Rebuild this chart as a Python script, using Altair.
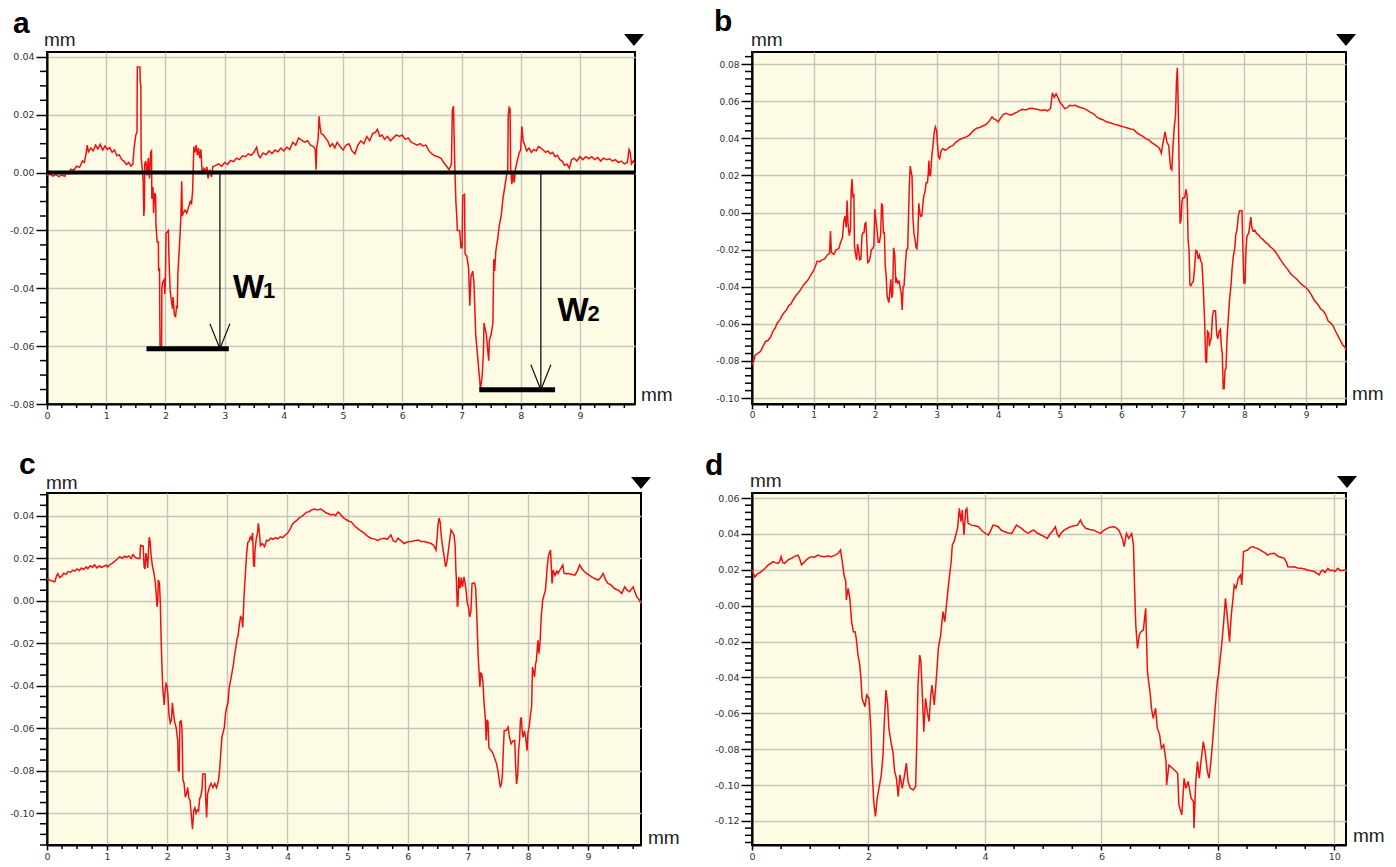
import altair as alt
import pandas as pd

# ---------------- profile data (mm, mm) ----------------
profile_a = [
    (0.00, -0.0010), (0.05, -0.0005), (0.10, -0.0012), (0.15, -0.0006), (0.20, -0.0014),
    (0.25, -0.0008), (0.30, -0.0013), (0.33, 0.0002), (0.37, -0.0004), (0.40, 0.0012),
    (0.45, 0.0008), (0.50, 0.0022), (0.55, 0.0018), (0.60, 0.0040), (0.63, 0.0035),
    (0.66, 0.0065), (0.68, 0.0095), (0.70, 0.0072), (0.74, 0.0085), (0.78, 0.0075),
    (0.82, 0.0095), (0.86, 0.0082), (0.90, 0.0098), (0.94, 0.0078), (0.98, 0.0092),
    (1.02, 0.0080), (1.06, 0.0086), (1.10, 0.0070), (1.14, 0.0078), (1.18, 0.0058),
    (1.22, 0.0062), (1.26, 0.0045), (1.30, 0.0040), (1.34, 0.0028), (1.38, 0.0035),
    (1.42, 0.0022), (1.45, 0.0030), (1.47, 0.0085), (1.50, 0.0130), (1.52, 0.0140),
    (1.525, 0.0365), (1.57, 0.0365), (1.575, 0.0310), (1.585, 0.0300), (1.59, 0.0050),
    (1.61, 0.0010), (1.625, -0.0030), (1.635, -0.0150), (1.645, -0.0120), (1.65, 0.0030),
    (1.67, 0.0040), (1.69, -0.0010), (1.71, 0.0050), (1.73, -0.0020), (1.75, 0.0070),
    (1.765, 0.0075), (1.77, -0.0090), (1.79, -0.0050), (1.80, -0.0140), (1.82, -0.0070),
    (1.835, -0.0080), (1.84, -0.0180), (1.86, -0.0240), (1.88, -0.0240), (1.885, -0.0340),
    (1.90, -0.0330), (1.905, -0.0500), (1.91, -0.0610), (1.935, -0.0610), (1.94, -0.0400),
    (1.95, -0.0380), (1.98, -0.0370), (1.99, -0.0420), (2.00, -0.0370), (2.01, -0.0210),
    (2.05, -0.0200), (2.06, -0.0300), (2.08, -0.0410), (2.10, -0.0440), (2.12, -0.0470),
    (2.13, -0.0430), (2.15, -0.0490), (2.17, -0.0500), (2.19, -0.0460), (2.20, -0.0470),
    (2.21, -0.0350), (2.23, -0.0280), (2.25, -0.0200), (2.26, -0.0160), (2.275, -0.0030),
    (2.285, -0.0150), (2.30, -0.0140), (2.33, -0.0130), (2.36, -0.0140), (2.39, -0.0120),
    (2.42, -0.0100), (2.44, -0.0110), (2.46, -0.0060), (2.48, 0.0090), (2.50, 0.0070),
    (2.52, 0.0095), (2.54, 0.0060), (2.56, 0.0085), (2.58, 0.0050), (2.60, 0.0080),
    (2.62, -0.0005), (2.65, 0.0015), (2.68, 0.0005), (2.70, 0.0020), (2.72, -0.0020),
    (2.75, 0.0010), (2.78, -0.0015), (2.80, 0.0020), (2.85, 0.0025), (2.90, 0.0030),
    (2.95, 0.0022), (3.00, 0.0035), (3.05, 0.0028), (3.10, 0.0042), (3.15, 0.0038),
    (3.20, 0.0050), (3.25, 0.0045), (3.30, 0.0058), (3.35, 0.0055), (3.40, 0.0065),
    (3.45, 0.0060), (3.50, 0.0072), (3.54, 0.0088), (3.57, 0.0060), (3.60, 0.0052),
    (3.65, 0.0068), (3.70, 0.0062), (3.75, 0.0075), (3.80, 0.0066), (3.85, 0.0078),
    (3.90, 0.0072), (3.95, 0.0085), (4.00, 0.0075), (4.05, 0.0088), (4.10, 0.0080),
    (4.15, 0.0105), (4.20, 0.0095), (4.25, 0.0120), (4.30, 0.0112), (4.35, 0.0105),
    (4.40, 0.0110), (4.45, 0.0095), (4.50, 0.0090), (4.53, 0.0080), (4.545, 0.0010),
    (4.555, 0.0085), (4.58, 0.0120), (4.595, 0.0195), (4.61, 0.0160), (4.63, 0.0135),
    (4.67, 0.0130), (4.70, 0.0120), (4.74, 0.0110), (4.78, 0.0090), (4.82, 0.0100),
    (4.86, 0.0085), (4.90, 0.0105), (4.95, 0.0090), (5.00, 0.0078), (5.05, 0.0095),
    (5.10, 0.0100), (5.15, 0.0075), (5.20, 0.0065), (5.25, 0.0095), (5.30, 0.0110),
    (5.35, 0.0100), (5.40, 0.0125), (5.45, 0.0110), (5.50, 0.0135), (5.55, 0.0140),
    (5.58, 0.0150), (5.62, 0.0125), (5.66, 0.0130), (5.70, 0.0115), (5.75, 0.0125),
    (5.80, 0.0110), (5.85, 0.0120), (5.90, 0.0130), (5.95, 0.0125), (6.00, 0.0130),
    (6.05, 0.0115), (6.10, 0.0120), (6.15, 0.0105), (6.20, 0.0100), (6.25, 0.0095),
    (6.30, 0.0100), (6.35, 0.0092), (6.40, 0.0095), (6.45, 0.0075), (6.50, 0.0065),
    (6.55, 0.0058), (6.60, 0.0055), (6.65, 0.0050), (6.70, 0.0035), (6.75, 0.0022),
    (6.79, 0.0010), (6.83, 0.0030), (6.845, 0.0215), (6.865, 0.0230), (6.875, 0.0130),
    (6.89, 0.0000), (6.905, -0.0100), (6.92, -0.0150), (6.93, -0.0200), (6.97, -0.0200),
    (6.99, -0.0260), (7.01, -0.0260), (7.02, -0.0080), (7.05, -0.0075), (7.06, -0.0280),
    (7.09, -0.0290), (7.12, -0.0330), (7.14, -0.0460), (7.16, -0.0360), (7.19, -0.0340),
    (7.21, -0.0380), (7.24, -0.0560), (7.27, -0.0630), (7.30, -0.0700), (7.32, -0.0750),
    (7.35, -0.0700), (7.37, -0.0620), (7.38, -0.0520), (7.40, -0.0540), (7.42, -0.0560),
    (7.44, -0.0610), (7.46, -0.0650), (7.47, -0.0580), (7.50, -0.0560), (7.53, -0.0520),
    (7.545, -0.0300), (7.56, -0.0340), (7.58, -0.0270), (7.61, -0.0230), (7.64, -0.0180),
    (7.67, -0.0150), (7.70, -0.0090), (7.73, -0.0050), (7.76, -0.0010), (7.78, 0.0000),
    (7.79, 0.0200), (7.805, 0.0225), (7.82, 0.0220), (7.83, 0.0010), (7.85, -0.0040),
    (7.87, 0.0000), (7.89, -0.0035), (7.91, 0.0010), (7.94, 0.0040), (7.97, 0.0065),
    (8.00, 0.0080), (8.02, 0.0160), (8.04, 0.0110), (8.07, 0.0095), (8.10, 0.0075),
    (8.14, 0.0085), (8.18, 0.0070), (8.22, 0.0080), (8.26, 0.0075), (8.30, 0.0090),
    (8.34, 0.0085), (8.38, 0.0078), (8.42, 0.0070), (8.46, 0.0075), (8.50, 0.0065),
    (8.54, 0.0070), (8.58, 0.0055), (8.62, 0.0060), (8.66, 0.0045), (8.70, 0.0040),
    (8.74, 0.0025), (8.78, 0.0030), (8.82, 0.0015), (8.86, 0.0045), (8.90, 0.0050),
    (8.95, 0.0040), (9.00, 0.0055), (9.05, 0.0045), (9.10, 0.0055), (9.15, 0.0048),
    (9.20, 0.0055), (9.25, 0.0045), (9.30, 0.0052), (9.35, 0.0040), (9.40, 0.0050),
    (9.45, 0.0045), (9.50, 0.0048), (9.55, 0.0040), (9.60, 0.0045), (9.65, 0.0035),
    (9.70, 0.0040), (9.75, 0.0030), (9.80, 0.0035), (9.83, 0.0080), (9.85, 0.0070),
    (9.87, 0.0030), (9.90, 0.0040), (9.93, 0.0030),
]

profile_b = [
    (0.00, -0.0820), (0.03, -0.0800), (0.05, -0.0770), (0.09, -0.0760), (0.14, -0.0748),
    (0.18, -0.0720), (0.22, -0.0695), (0.26, -0.0690), (0.30, -0.0672), (0.34, -0.0640),
    (0.38, -0.0620), (0.41, -0.0595), (0.45, -0.0580), (0.49, -0.0555), (0.52, -0.0540),
    (0.56, -0.0525), (0.60, -0.0500), (0.63, -0.0494), (0.67, -0.0470), (0.72, -0.0445),
    (0.76, -0.0430), (0.80, -0.0410), (0.85, -0.0385), (0.90, -0.0368), (0.95, -0.0340),
    (1.00, -0.0314), (1.03, -0.0290), (1.06, -0.0262), (1.10, -0.0265), (1.14, -0.0255),
    (1.18, -0.0250), (1.22, -0.0230), (1.26, -0.0220), (1.275, -0.0100), (1.29, -0.0215),
    (1.33, -0.0225), (1.37, -0.0200), (1.41, -0.0195), (1.44, -0.0160), (1.47, -0.0135),
    (1.49, -0.0050), (1.51, -0.0020), (1.53, -0.0080), (1.545, 0.0065), (1.56, -0.0060),
    (1.58, -0.0125), (1.60, -0.0090), (1.61, 0.0110), (1.625, 0.0180), (1.64, 0.0080),
    (1.655, 0.0100), (1.665, -0.0180), (1.68, -0.0220), (1.70, -0.0255), (1.715, -0.0170),
    (1.73, -0.0200), (1.75, -0.0255), (1.77, -0.0250), (1.785, -0.0130), (1.80, -0.0110),
    (1.82, -0.0108), (1.835, -0.0060), (1.85, -0.0055), (1.865, -0.0150), (1.88, -0.0270),
    (1.90, -0.0265), (1.92, -0.0240), (1.94, -0.0200), (1.96, -0.0195), (1.98, -0.0180),
    (1.995, 0.0018), (2.01, -0.0030), (2.03, -0.0090), (2.05, -0.0160), (2.07, -0.0160),
    (2.09, -0.0120), (2.105, 0.0045), (2.12, 0.0040), (2.135, -0.0110), (2.15, -0.0108),
    (2.165, -0.0290), (2.18, -0.0340), (2.195, -0.0450), (2.21, -0.0470), (2.225, -0.0485),
    (2.24, -0.0420), (2.255, -0.0360), (2.27, -0.0460), (2.285, -0.0440), (2.30, -0.0190),
    (2.32, -0.0230), (2.335, -0.0380), (2.35, -0.0360), (2.37, -0.0380), (2.39, -0.0370),
    (2.41, -0.0410), (2.425, -0.0440), (2.44, -0.0525), (2.455, -0.0400), (2.47, -0.0395),
    (2.49, -0.0290), (2.51, -0.0200), (2.53, -0.0195), (2.545, 0.0010), (2.555, 0.0130),
    (2.57, 0.0250), (2.585, 0.0220), (2.60, 0.0195), (2.615, -0.0030), (2.63, -0.0110),
    (2.65, -0.0150), (2.665, -0.0190), (2.68, -0.0195), (2.695, -0.0120), (2.71, 0.0050),
    (2.725, 0.0000), (2.74, -0.0020), (2.76, -0.0018), (2.775, 0.0040), (2.79, 0.0090),
    (2.81, 0.0110), (2.83, 0.0160), (2.85, 0.0160), (2.865, 0.0215), (2.875, 0.0280),
    (2.885, 0.0200), (2.90, 0.0198), (2.92, 0.0300), (2.94, 0.0360), (2.96, 0.0430),
    (2.98, 0.0460), (3.00, 0.0440), (3.015, 0.0360), (3.03, 0.0300), (3.05, 0.0290),
    (3.07, 0.0330), (3.10, 0.0345), (3.14, 0.0335), (3.18, 0.0345), (3.22, 0.0355),
    (3.26, 0.0360), (3.30, 0.0375), (3.34, 0.0385), (3.38, 0.0395), (3.42, 0.0400),
    (3.46, 0.0405), (3.50, 0.0410), (3.54, 0.0420), (3.58, 0.0435), (3.62, 0.0448),
    (3.66, 0.0455), (3.70, 0.0458), (3.74, 0.0465), (3.78, 0.0470), (3.82, 0.0480),
    (3.86, 0.0495), (3.90, 0.0515), (3.93, 0.0505), (3.96, 0.0500), (4.00, 0.0488),
    (4.04, 0.0510), (4.08, 0.0528), (4.12, 0.0535), (4.16, 0.0530), (4.20, 0.0525),
    (4.25, 0.0532), (4.30, 0.0540), (4.35, 0.0550), (4.40, 0.0556), (4.45, 0.0552),
    (4.50, 0.0560), (4.55, 0.0562), (4.60, 0.0558), (4.65, 0.0555), (4.70, 0.0550),
    (4.75, 0.0553), (4.80, 0.0548), (4.85, 0.0560), (4.88, 0.0645), (4.91, 0.0620),
    (4.94, 0.0640), (4.97, 0.0620), (5.00, 0.0595), (5.04, 0.0580), (5.08, 0.0560),
    (5.12, 0.0565), (5.16, 0.0578), (5.20, 0.0575), (5.25, 0.0578), (5.30, 0.0570),
    (5.35, 0.0565), (5.40, 0.0560), (5.45, 0.0550), (5.50, 0.0540), (5.55, 0.0532),
    (5.60, 0.0515), (5.65, 0.0505), (5.70, 0.0500), (5.75, 0.0490), (5.80, 0.0485),
    (5.85, 0.0480), (5.90, 0.0475), (5.95, 0.0470), (6.00, 0.0465), (6.05, 0.0460),
    (6.10, 0.0455), (6.15, 0.0450), (6.20, 0.0448), (6.25, 0.0430), (6.30, 0.0420),
    (6.35, 0.0410), (6.40, 0.0398), (6.45, 0.0390), (6.50, 0.0375), (6.55, 0.0365),
    (6.58, 0.0358), (6.62, 0.0345), (6.65, 0.0320), (6.68, 0.0380), (6.71, 0.0435),
    (6.74, 0.0380), (6.77, 0.0360), (6.80, 0.0240), (6.82, 0.0230), (6.84, 0.0360),
    (6.86, 0.0460), (6.88, 0.0520), (6.895, 0.0700), (6.91, 0.0780), (6.925, 0.0560),
    (6.935, 0.0350), (6.945, 0.0090), (6.955, -0.0060), (6.97, -0.0040), (6.985, 0.0060),
    (7.00, 0.0080), (7.03, 0.0080), (7.05, 0.0125), (7.07, 0.0090), (7.085, -0.0150),
    (7.10, -0.0200), (7.115, -0.0390), (7.13, -0.0395), (7.15, -0.0380), (7.17, -0.0370),
    (7.19, -0.0300), (7.21, -0.0205), (7.23, -0.0210), (7.25, -0.0250), (7.27, -0.0230),
    (7.29, -0.0260), (7.31, -0.0275), (7.33, -0.0400), (7.355, -0.0600), (7.37, -0.0800),
    (7.385, -0.0810), (7.40, -0.0640), (7.42, -0.0650), (7.43, -0.0720), (7.445, -0.0690),
    (7.46, -0.0680), (7.48, -0.0560), (7.50, -0.0530), (7.53, -0.0530), (7.55, -0.0660),
    (7.57, -0.0680), (7.59, -0.0640), (7.61, -0.0630), (7.625, -0.0720), (7.64, -0.0760),
    (7.655, -0.0950), (7.67, -0.0950), (7.685, -0.0850), (7.70, -0.0840), (7.72, -0.0660),
    (7.74, -0.0560), (7.76, -0.0460), (7.78, -0.0400), (7.80, -0.0300), (7.82, -0.0234),
    (7.84, -0.0200), (7.86, -0.0120), (7.88, -0.0090), (7.90, -0.0020), (7.92, 0.0010),
    (7.96, 0.0010), (7.975, -0.0200), (7.99, -0.0380), (8.01, -0.0380), (8.025, -0.0200),
    (8.04, -0.0130), (8.07, -0.0110), (8.09, -0.0060), (8.105, -0.0025), (8.12, -0.0080),
    (8.14, -0.0100), (8.17, -0.0095), (8.20, -0.0115), (8.23, -0.0120), (8.26, -0.0135),
    (8.30, -0.0145), (8.34, -0.0160), (8.38, -0.0170), (8.42, -0.0185), (8.46, -0.0195),
    (8.50, -0.0210), (8.55, -0.0235), (8.60, -0.0262), (8.65, -0.0285), (8.70, -0.0305),
    (8.75, -0.0330), (8.80, -0.0345), (8.86, -0.0362), (8.92, -0.0385), (8.98, -0.0400),
    (9.03, -0.0415), (9.08, -0.0440), (9.13, -0.0470), (9.19, -0.0494), (9.24, -0.0520),
    (9.28, -0.0530), (9.32, -0.0550), (9.36, -0.0585), (9.40, -0.0595), (9.44, -0.0610),
    (9.48, -0.0640), (9.52, -0.0665), (9.56, -0.0690), (9.60, -0.0715), (9.63, -0.0725),
    (9.65, -0.0740),
]

profile_c = [
    (0.00, 0.0106), (0.03, 0.0100), (0.07, 0.0095), (0.10, 0.0092), (0.13, 0.0090),
    (0.16, 0.0118), (0.18, 0.0128), (0.21, 0.0110), (0.24, 0.0115), (0.28, 0.0130),
    (0.32, 0.0125), (0.35, 0.0138), (0.39, 0.0135), (0.43, 0.0145), (0.46, 0.0140),
    (0.50, 0.0150), (0.54, 0.0142), (0.57, 0.0155), (0.61, 0.0148), (0.65, 0.0160),
    (0.68, 0.0152), (0.72, 0.0165), (0.76, 0.0158), (0.79, 0.0170), (0.83, 0.0155),
    (0.87, 0.0165), (0.90, 0.0158), (0.94, 0.0162), (0.98, 0.0168), (1.01, 0.0160),
    (1.05, 0.0172), (1.09, 0.0178), (1.12, 0.0185), (1.16, 0.0195), (1.21, 0.0208),
    (1.25, 0.0200), (1.29, 0.0210), (1.32, 0.0205), (1.36, 0.0212), (1.40, 0.0200),
    (1.43, 0.0218), (1.47, 0.0205), (1.51, 0.0200), (1.545, 0.0200), (1.555, 0.0262),
    (1.60, 0.0258), (1.615, 0.0160), (1.63, 0.0150), (1.645, 0.0225), (1.66, 0.0200),
    (1.675, 0.0155), (1.69, 0.0250), (1.70, 0.0300), (1.715, 0.0280), (1.73, 0.0220),
    (1.75, 0.0170), (1.78, 0.0130), (1.80, 0.0090), (1.815, 0.0035), (1.83, -0.0028),
    (1.845, 0.0010), (1.85, 0.0098), (1.87, 0.0085), (1.885, -0.0010), (1.90, -0.0200),
    (1.91, -0.0290), (1.925, -0.0410), (1.94, -0.0460), (1.95, -0.0490), (1.965, -0.0420),
    (1.98, -0.0390), (1.995, -0.0400), (2.01, -0.0440), (2.03, -0.0540), (2.05, -0.0575),
    (2.07, -0.0560), (2.085, -0.0480), (2.10, -0.0520), (2.12, -0.0565), (2.15, -0.0600),
    (2.175, -0.0660), (2.185, -0.0800), (2.20, -0.0800), (2.21, -0.0570), (2.23, -0.0565),
    (2.245, -0.0600), (2.26, -0.0840), (2.28, -0.0860), (2.30, -0.0925), (2.32, -0.0910),
    (2.34, -0.0880), (2.36, -0.0930), (2.38, -0.0940), (2.40, -0.1010), (2.42, -0.1075),
    (2.44, -0.0990), (2.46, -0.0975), (2.48, -0.1000), (2.50, -0.0985), (2.52, -0.0990),
    (2.54, -0.0930), (2.56, -0.0920), (2.58, -0.0880), (2.59, -0.0815), (2.63, -0.0815),
    (2.64, -0.0930), (2.655, -0.1020), (2.67, -0.0910), (2.69, -0.0890), (2.71, -0.0870),
    (2.73, -0.0860), (2.76, -0.0880), (2.79, -0.0860), (2.82, -0.0880), (2.85, -0.0850),
    (2.87, -0.0800), (2.89, -0.0720), (2.91, -0.0640), (2.93, -0.0620), (2.95, -0.0595),
    (2.97, -0.0530), (2.99, -0.0500), (3.01, -0.0480), (3.03, -0.0410), (3.05, -0.0380),
    (3.07, -0.0350), (3.10, -0.0300), (3.12, -0.0255), (3.14, -0.0220), (3.16, -0.0180),
    (3.18, -0.0160), (3.20, -0.0110), (3.22, -0.0075), (3.24, -0.0080), (3.255, -0.0125),
    (3.27, -0.0030), (3.28, 0.0035), (3.30, 0.0130), (3.32, 0.0220), (3.34, 0.0275),
    (3.36, 0.0280), (3.38, 0.0300), (3.40, 0.0290), (3.42, 0.0320), (3.435, 0.0170),
    (3.45, 0.0160), (3.46, 0.0240), (3.48, 0.0290), (3.50, 0.0320), (3.515, 0.0365),
    (3.53, 0.0330), (3.55, 0.0260), (3.58, 0.0270), (3.62, 0.0255), (3.65, 0.0285),
    (3.68, 0.0282), (3.72, 0.0295), (3.76, 0.0290), (3.80, 0.0298), (3.84, 0.0292),
    (3.88, 0.0302), (3.92, 0.0298), (3.96, 0.0310), (4.00, 0.0318), (4.04, 0.0335),
    (4.08, 0.0360), (4.12, 0.0372), (4.16, 0.0380), (4.20, 0.0392), (4.24, 0.0398),
    (4.28, 0.0408), (4.32, 0.0418), (4.36, 0.0420), (4.40, 0.0428), (4.45, 0.0432),
    (4.50, 0.0428), (4.55, 0.0432), (4.60, 0.0424), (4.64, 0.0415), (4.68, 0.0410),
    (4.72, 0.0405), (4.76, 0.0408), (4.80, 0.0402), (4.84, 0.0418), (4.87, 0.0412),
    (4.90, 0.0400), (4.94, 0.0390), (4.98, 0.0382), (5.02, 0.0375), (5.06, 0.0372),
    (5.11, 0.0355), (5.17, 0.0340), (5.22, 0.0330), (5.28, 0.0318), (5.33, 0.0305),
    (5.39, 0.0295), (5.44, 0.0292), (5.50, 0.0285), (5.55, 0.0292), (5.61, 0.0295),
    (5.66, 0.0290), (5.72, 0.0310), (5.76, 0.0282), (5.80, 0.0278), (5.84, 0.0295),
    (5.88, 0.0285), (5.94, 0.0270), (6.00, 0.0278), (6.06, 0.0279), (6.11, 0.0283),
    (6.17, 0.0287), (6.22, 0.0280), (6.28, 0.0279), (6.33, 0.0275), (6.39, 0.0270),
    (6.43, 0.0262), (6.47, 0.0239), (6.49, 0.0300), (6.50, 0.0350), (6.52, 0.0390),
    (6.54, 0.0370), (6.56, 0.0300), (6.58, 0.0255), (6.61, 0.0200), (6.63, 0.0160),
    (6.65, 0.0180), (6.67, 0.0224), (6.70, 0.0290), (6.72, 0.0334), (6.75, 0.0320),
    (6.77, 0.0310), (6.79, 0.0255), (6.80, 0.0150), (6.81, 0.0098), (6.825, -0.0028),
    (6.835, -0.0020), (6.85, 0.0113), (6.87, 0.0060), (6.89, 0.0110), (6.91, 0.0066),
    (6.935, 0.0113), (6.95, 0.0090), (6.97, 0.0050), (6.99, -0.0010), (7.01, -0.0028),
    (7.03, -0.0076), (7.05, -0.0050), (7.07, 0.0082), (7.11, 0.0085), (7.13, 0.0060),
    (7.15, -0.0076), (7.17, -0.0250), (7.185, -0.0328), (7.20, -0.0406), (7.215, -0.0340),
    (7.23, -0.0343), (7.25, -0.0380), (7.27, -0.0485), (7.29, -0.0550), (7.305, -0.0658),
    (7.32, -0.0560), (7.335, -0.0570), (7.35, -0.0690), (7.37, -0.0700), (7.39, -0.0706),
    (7.42, -0.0720), (7.44, -0.0737), (7.47, -0.0760), (7.50, -0.0800), (7.52, -0.0840),
    (7.54, -0.0879), (7.56, -0.0860), (7.575, -0.0815), (7.59, -0.0700), (7.605, -0.0611),
    (7.64, -0.0611), (7.67, -0.0595), (7.69, -0.0640), (7.72, -0.0674), (7.75, -0.0660),
    (7.78, -0.0658), (7.795, -0.0780), (7.81, -0.0863), (7.83, -0.0815), (7.845, -0.0700),
    (7.86, -0.0658), (7.875, -0.0560), (7.89, -0.0548), (7.905, -0.0620), (7.92, -0.0643),
    (7.94, -0.0611), (7.96, -0.0640), (7.985, -0.0706), (8.00, -0.0620), (8.02, -0.0595),
    (8.04, -0.0540), (8.06, -0.0500), (8.075, -0.0312), (8.09, -0.0330), (8.11, -0.0359),
    (8.125, -0.0300), (8.14, -0.0280), (8.16, -0.0200), (8.17, -0.0186), (8.18, -0.0249),
    (8.20, -0.0200), (8.22, -0.0076), (8.245, 0.0003), (8.27, 0.0030), (8.29, 0.0050),
    (8.31, 0.0120), (8.32, 0.0160), (8.34, 0.0210), (8.355, 0.0224), (8.375, 0.0239),
    (8.39, 0.0150), (8.40, 0.0082), (8.42, 0.0145), (8.45, 0.0120), (8.48, 0.0140),
    (8.50, 0.0129), (8.54, 0.0150), (8.58, 0.0169), (8.60, 0.0130), (8.63, 0.0128),
    (8.67, 0.0129), (8.72, 0.0125), (8.78, 0.0121), (8.82, 0.0140), (8.86, 0.0169),
    (8.90, 0.0150), (8.94, 0.0137), (9.00, 0.0125), (9.06, 0.0113), (9.11, 0.0105),
    (9.17, 0.0098), (9.21, 0.0110), (9.25, 0.0129), (9.29, 0.0100), (9.33, 0.0082),
    (9.38, 0.0075), (9.44, 0.0058), (9.50, 0.0050), (9.56, 0.0035), (9.61, 0.0066),
    (9.65, 0.0050), (9.69, 0.0043), (9.75, 0.0066), (9.78, 0.0040), (9.81, 0.0019),
    (9.85, 0.0005), (9.88, -0.0013),
]

profile_d = [
    (0.00, 0.0199), (0.03, 0.0175), (0.05, 0.0160), (0.08, 0.0172), (0.10, 0.0180),
    (0.14, 0.0185), (0.19, 0.0199), (0.23, 0.0210), (0.28, 0.0227), (0.32, 0.0235),
    (0.36, 0.0245), (0.40, 0.0240), (0.45, 0.0236), (0.48, 0.0250), (0.50, 0.0273),
    (0.53, 0.0240), (0.56, 0.0236), (0.62, 0.0255), (0.68, 0.0264), (0.73, 0.0275),
    (0.79, 0.0282), (0.82, 0.0260), (0.85, 0.0227), (0.89, 0.0240), (0.93, 0.0254),
    (0.97, 0.0265), (1.02, 0.0273), (1.07, 0.0270), (1.13, 0.0282), (1.19, 0.0275),
    (1.25, 0.0273), (1.30, 0.0278), (1.36, 0.0273), (1.42, 0.0280), (1.48, 0.0292),
    (1.52, 0.0310), (1.55, 0.0245), (1.58, 0.0171), (1.61, 0.0134), (1.62, 0.0032),
    (1.65, 0.0097), (1.68, 0.0041), (1.71, -0.0089), (1.74, -0.0145), (1.77, -0.0145),
    (1.79, -0.0182), (1.82, -0.0275), (1.85, -0.0330), (1.87, -0.0405), (1.89, -0.0516),
    (1.94, -0.0563), (1.97, -0.0498), (2.01, -0.0516), (2.04, -0.0683), (2.06, -0.0888),
    (2.09, -0.1092), (2.12, -0.1175), (2.15, -0.1073), (2.18, -0.1018), (2.22, -0.0943),
    (2.25, -0.0832), (2.27, -0.0665), (2.30, -0.0470), (2.33, -0.0553), (2.35, -0.0683),
    (2.39, -0.0767), (2.42, -0.0813), (2.45, -0.0925), (2.48, -0.0962), (2.51, -0.1064),
    (2.54, -0.0943), (2.58, -0.1018), (2.62, -0.0943), (2.65, -0.0878), (2.68, -0.0980),
    (2.72, -0.1018), (2.77, -0.1027), (2.81, -0.1008), (2.83, -0.0758), (2.85, -0.0442),
    (2.88, -0.0275), (2.90, -0.0312), (2.93, -0.0535), (2.95, -0.0702), (2.98, -0.0516),
    (3.01, -0.0590), (3.04, -0.0646), (3.07, -0.0498), (3.09, -0.0442), (3.13, -0.0553),
    (3.17, -0.0386), (3.20, -0.0238), (3.24, -0.0163), (3.28, -0.0033), (3.31, -0.0089),
    (3.35, 0.0041), (3.38, 0.0134), (3.42, 0.0245), (3.44, 0.0338), (3.47, 0.0357),
    (3.50, 0.0394), (3.53, 0.0431), (3.56, 0.0542), (3.59, 0.0468), (3.61, 0.0533),
    (3.64, 0.0394), (3.67, 0.0533), (3.69, 0.0542), (3.71, 0.0459), (3.77, 0.0449),
    (3.83, 0.0445), (3.89, 0.0440), (3.93, 0.0425), (3.97, 0.0412), (4.02, 0.0400),
    (4.06, 0.0394), (4.10, 0.0420), (4.14, 0.0449), (4.19, 0.0445), (4.23, 0.0440),
    (4.28, 0.0420), (4.34, 0.0412), (4.40, 0.0405), (4.46, 0.0403), (4.50, 0.0425),
    (4.54, 0.0449), (4.58, 0.0440), (4.63, 0.0431), (4.68, 0.0415), (4.74, 0.0403),
    (4.79, 0.0415), (4.84, 0.0421), (4.90, 0.0405), (4.96, 0.0394), (5.02, 0.0385),
    (5.07, 0.0375), (5.11, 0.0395), (5.15, 0.0412), (5.21, 0.0440), (5.24, 0.0400),
    (5.27, 0.0384), (5.31, 0.0405), (5.36, 0.0421), (5.42, 0.0432), (5.47, 0.0440),
    (5.53, 0.0445), (5.59, 0.0449), (5.64, 0.0477), (5.68, 0.0450), (5.73, 0.0431),
    (5.80, 0.0425), (5.87, 0.0421), (5.93, 0.0410), (5.99, 0.0403), (6.04, 0.0420),
    (6.10, 0.0431), (6.16, 0.0438), (6.22, 0.0440), (6.26, 0.0432), (6.30, 0.0421),
    (6.36, 0.0375), (6.39, 0.0329), (6.43, 0.0403), (6.47, 0.0375), (6.52, 0.0403),
    (6.55, 0.0338), (6.57, 0.0097), (6.59, -0.0108), (6.62, -0.0238), (6.65, -0.0163),
    (6.68, -0.0145), (6.72, -0.0136), (6.76, -0.0015), (6.79, -0.0368), (6.84, -0.0498),
    (6.86, -0.0572), (6.89, -0.0628), (6.93, -0.0572), (6.96, -0.0683), (7.00, -0.0720),
    (7.03, -0.0795), (7.07, -0.0776), (7.11, -0.0869), (7.12, -0.0999), (7.16, -0.0888),
    (7.22, -0.0906), (7.31, -0.0934), (7.33, -0.1111), (7.38, -0.1166), (7.42, -0.0962),
    (7.45, -0.1018), (7.49, -0.0980), (7.54, -0.1073), (7.58, -0.1092), (7.59, -0.1240),
    (7.62, -0.0980), (7.65, -0.0869), (7.68, -0.0962), (7.71, -0.0869), (7.75, -0.0758),
    (7.78, -0.0813), (7.82, -0.0925), (7.85, -0.0962), (7.88, -0.0869), (7.91, -0.0758),
    (7.94, -0.0628), (7.97, -0.0498), (7.99, -0.0423), (8.01, -0.0386), (8.04, -0.0293),
    (8.07, -0.0201), (8.10, -0.0089), (8.13, 0.0041), (8.17, -0.0089), (8.20, -0.0201),
    (8.23, -0.0052), (8.26, 0.0041), (8.28, 0.0115), (8.31, 0.0097), (8.35, 0.0152),
    (8.39, 0.0171), (8.41, 0.0115), (8.44, 0.0301), (8.51, 0.0310), (8.56, 0.0325),
    (8.60, 0.0329), (8.64, 0.0322), (8.68, 0.0319), (8.73, 0.0310), (8.77, 0.0301),
    (8.81, 0.0295), (8.85, 0.0282), (8.91, 0.0290), (8.97, 0.0292), (9.01, 0.0280),
    (9.05, 0.0273), (9.10, 0.0268), (9.14, 0.0264), (9.18, 0.0240), (9.20, 0.0217),
    (9.26, 0.0215), (9.31, 0.0217), (9.37, 0.0210), (9.43, 0.0208), (9.49, 0.0204),
    (9.54, 0.0199), (9.60, 0.0195), (9.66, 0.0189), (9.70, 0.0180), (9.74, 0.0171),
    (9.77, 0.0190), (9.80, 0.0199), (9.84, 0.0185), (9.89, 0.0208), (9.93, 0.0195),
    (9.97, 0.0199), (10.01, 0.0190), (10.06, 0.0208), (10.11, 0.0195), (10.17, 0.0199),
    (10.20, 0.0200),
]

# axis ticks
x_ticks_a = [0, 1, 2, 3, 4, 5, 6, 7, 8, 9]
x_ticks_b = [0, 1, 2, 3, 4, 5, 6, 7, 8, 9]
x_ticks_c = [0, 1, 2, 3, 4, 5, 6, 7, 8, 9]
x_ticks_d = [0, 2, 4, 6, 8, 10]
y_ticks_a = [-0.08, -0.06, -0.04, -0.02, 0.0, 0.02, 0.04]
y_ticks_b = [-0.10, -0.08, -0.06, -0.04, -0.02, 0.0, 0.02, 0.04, 0.06, 0.08]
y_ticks_c = [-0.10, -0.08, -0.06, -0.04, -0.02, 0.0, 0.02, 0.04]
y_ticks_d = [-0.12, -0.10, -0.08, -0.06, -0.04, -0.02, 0.0, 0.02, 0.04, 0.06]

# panel (a) annotations: widths W1, W2
w_arrows = [  # x of arrow, depth of bar, bar start, bar end
    {"x": 2.92, "depth": -0.0609, "x1": 1.68, "x2": 3.07},
    {"x": 8.34, "depth": -0.0751, "x1": 7.30, "x2": 8.58},
]
w_labels = [
    {"x": 3.14, "y": -0.0433, "main": "W", "sub": "1"},
    {"x": 8.62, "y": -0.0512, "main": "W", "sub": "2"},
]

RED = "#ee1111"
BG = "#fdfbe4"
GRID = "#c6c6bd"
LABEL_COLOR = "#333333"
one = pd.DataFrame({"k": [0]})


def minor_ticks(lo, hi, step, major):
    out = []
    k0 = int(lo / step) - 2
    k1 = int(hi / step) + 2
    for k in range(k0, k1 + 1):
        v = round(k * step, 6)
        if v < lo - 1e-9 or v > hi + 1e-9:
            continue
        r = v / major
        if abs(r - round(r)) < 1e-6:
            continue
        out.append(v)
    return out


def text_at(text, px, py, size, bold=False, font="Liberation Sans", color="black"):
    return alt.Chart(one).mark_text(
        text=text, align="left", baseline="alphabetic", font=font,
        fontSize=size, fontWeight="bold" if bold else "normal", color=color,
    ).encode(x=alt.value(px), y=alt.value(py))


def panel(profile, xdom, ydom, xmaj, ymaj, xstep, ystep, w, h, letter, letter_xy,
          mm_top_xy, mm_right_xy, tri_xy, label_fs=9.5, zero_text="0.00", extras=None,
          anchor=False):
    df = pd.DataFrame({"x": [p[0] for p in profile], "y": [p[1] for p in profile]})
    df["i"] = range(len(df))
    xsc = alt.Scale(domain=xdom, nice=False, zero=False)
    ysc = alt.Scale(domain=ydom, nice=False, zero=False)
    xaxis = alt.Axis(
        values=xmaj, format="d", grid=True, gridColor=GRID, gridWidth=1.4,
        tickSize=5, tickWidth=1.5, tickColor="black", domainColor="black",
        domainWidth=2, labelFont="DejaVu Sans", labelFontSize=label_fs,
        labelColor=LABEL_COLOR, labelPadding=1, title=None, labelFlush=False,
        labelOverlap=False,
    )
    yexpr = ("abs(datum.value) < 1e-9 ? '" + zero_text + "' : "
             "replace(format(datum.value, '.2f'), '\u2212', '-')")
    yaxis = alt.Axis(
        values=ymaj, labelExpr=yexpr, grid=True, gridColor=GRID, gridWidth=1.4,
        tickSize=11, tickWidth=1.5, tickColor="black", domainColor="black",
        domainWidth=2, labelFont="DejaVu Sans", labelFontSize=label_fs,
        labelColor=LABEL_COLOR, labelPadding=2, title=None, labelFlush=False,
        labelOverlap=False,
    )
    X = lambda f: alt.X(f, scale=xsc, axis=xaxis)
    Y = lambda f: alt.Y(f, scale=ysc, axis=yaxis)

    line = alt.Chart(df).mark_line(color=RED, strokeWidth=1.5).encode(
        x=X("x:Q"), y=Y("y:Q"), order="i:Q",
    )
    ymin = alt.Chart(pd.DataFrame({"v": minor_ticks(ydom[0], ydom[1], ystep, 0.02)})).mark_rule(
        color="black", strokeWidth=1.5
    ).encode(y=Y("v:Q"), x=alt.value(-7), x2=alt.value(0))
    xmin = alt.Chart(pd.DataFrame({"v": minor_ticks(xdom[0], xdom[1], xstep, xmaj[1] - xmaj[0])})).mark_rule(
        color="black", strokeWidth=1.5
    ).encode(x=X("v:Q"), y=alt.value(h), y2=alt.value(h + 4))

    layers = [line]
    if extras is not None:
        layers += extras(X, Y)
    layers += [ymin, xmin]
    layers.append(text_at(letter, letter_xy[0], letter_xy[1], 30, bold=True))
    layers.append(text_at("mm", mm_top_xy[0], mm_top_xy[1], 19, color="#222222"))
    layers.append(text_at("mm", mm_right_xy[0], mm_right_xy[1], 19, color="#222222"))
    layers.append(
        alt.Chart(one).mark_point(
            shape="M-1,-0.6L1,-0.6L0,0.6Z", filled=True, color="black",
            size=400, opacity=1, strokeWidth=0,
        ).encode(x=alt.value(tri_xy[0]), y=alt.value(tri_xy[1]))
    )
    if anchor:
        layers.append(
            alt.Chart(one).mark_rect(opacity=0, color="white").encode(
                x=alt.value(-46), x2=alt.value(-45), y=alt.value(-51), y2=alt.value(-50)
            )
        )
    return alt.layer(*layers).properties(width=w, height=h)


def extras_a(X, Y):
    zero = pd.DataFrame({"x0": [0.0], "x1": [9.93], "y": [0.0]})
    arr = pd.DataFrame(w_arrows)
    arr["top"] = 0.0
    zl = alt.Chart(zero).mark_rule(color="black", strokeWidth=4).encode(
        x=X("x0:Q"), x2="x1:Q", y=Y("y:Q"))
    vl = alt.Chart(arr).mark_rule(color="#111111", strokeWidth=1.3).encode(
        x=X("x:Q"), y=Y("top:Q"), y2="depth:Q")
    heads = alt.Chart(arr).mark_point(
        shape="M-0.4,-1L0,0L0.4,-1", filled=False, color="#111111",
        strokeWidth=1.2, size=2500, opacity=1,
    ).encode(x=X("x:Q"), y=Y("depth:Q"))
    bars = alt.Chart(arr).mark_rule(color="black", strokeWidth=5).encode(
        x=X("x1:Q"), x2="x2:Q", y=Y("depth:Q"))
    out = [zl, vl, heads, bars]
    for lab in w_labels:
        ldf = pd.DataFrame([lab])
        out.append(alt.Chart(ldf).mark_text(
            align="left", baseline="alphabetic", font="Liberation Sans",
            fontSize=33, fontWeight="bold", color="black",
        ).encode(x=X("x:Q"), y=Y("y:Q"), text="main:N"))
        out.append(alt.Chart(ldf).mark_text(
            align="left", baseline="alphabetic", font="Liberation Sans",
            fontSize=22, fontWeight="bold", color="black", dx=30,
        ).encode(x=X("x:Q"), y=Y("y:Q"), text="sub:N"))
    return out


pa = panel(profile_a, [0, 9.93], [-0.08, 0.0417], x_ticks_a, y_ticks_a, 0.25, 0.005,
           588, 352, "a", (-34, -19), (-3, -6), (594, 349), (587, -12),
           label_fs=9.5, extras=extras_a, anchor=True)
pb = panel(profile_b, [0, 9.65], [-0.1032, 0.0865], x_ticks_b, y_ticks_b, 0.25, 0.004,
           594, 352, "b", (-38, -21), (-1, -6), (600, 348), (594, -12),
           label_fs=9)
pc = panel(profile_c, [0, 9.88], [-0.115, 0.0508], x_ticks_c, y_ticks_c, 0.25, 0.005,
           594, 352, "c", (-28, -19), (-1, -4), (601, 351), (594, -10),
           label_fs=9.5)
pdd = panel(profile_d, [0, 10.2], [-0.1334, 0.0628], x_ticks_d, y_ticks_d, 0.5, 0.004,
            594, 352, "d", (-47, -18), (-2, -6), (601, 349), (595, -11),
            label_fs=9.5, zero_text="-0.00")

chart = alt.concat(
    pa, pb, pc, pdd, columns=2, spacing={"row": 89, "column": 111},
    align="none", bounds="flush",
).properties(padding=0).configure_view(
    fill=BG, stroke="black", strokeWidth=2
)

chart.save("out.html", embed_options={"renderer": "svg", "actions": False})
